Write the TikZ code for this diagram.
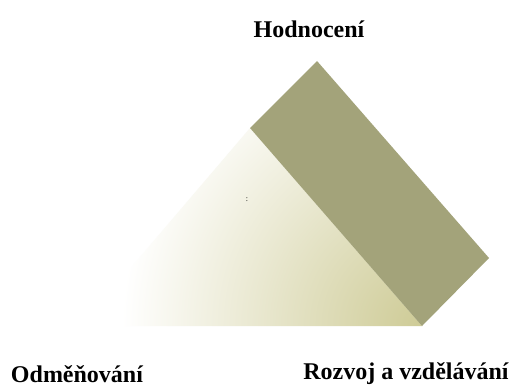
\documentclass[tikz,border=0pt]{standalone}
\usepackage{fontspec}
\setmainfont{Liberation Serif}
\definecolor{rectcol}{RGB}{163,163,122}
\definecolor{khakiend}{RGB}{206,203,150}
\begin{document}
\begin{tikzpicture}[x=1pt,y=1pt,
  lbl/.style={font=\fontsize{24}{28}\selectfont\bfseries, inner sep=0pt},
  band/.style={fill=rectcol, draw=none}]
\useasboundingbox[fill=white] (0,0) rectangle (510,388);
% shaded triangle
\coordinate (tl) at (81,62);
\coordinate (ta) at (250,260);
\coordinate (tr) at (422,62);
\begin{scope}
  \clip (tl) -- (ta) -- (tr) -- cycle;
  \shade[inner color=khakiend, outer color=white] (tr) circle (300);
\end{scope}
% rotated bar
\coordinate (rt) at (317,327);
\coordinate (rl) at (250,260);
\coordinate (rb) at (422,62);
\coordinate (rr) at (489,130);
\fill[band] (rt) -- (rr) -- (rb) -- (rl) -- cycle;
% labels
\node[lbl] (hod) at (309,359) {Hodnocení};
\node[lbl] (odm) at (77,14) {Odměňování};
\node[lbl] (roz) at (406,14) {Rozvoj a vzdělávání};
\node[font=\fontsize{8}{9}\selectfont, inner sep=0pt] (colon) at (247,188) {:};
\end{tikzpicture}
\end{document}
